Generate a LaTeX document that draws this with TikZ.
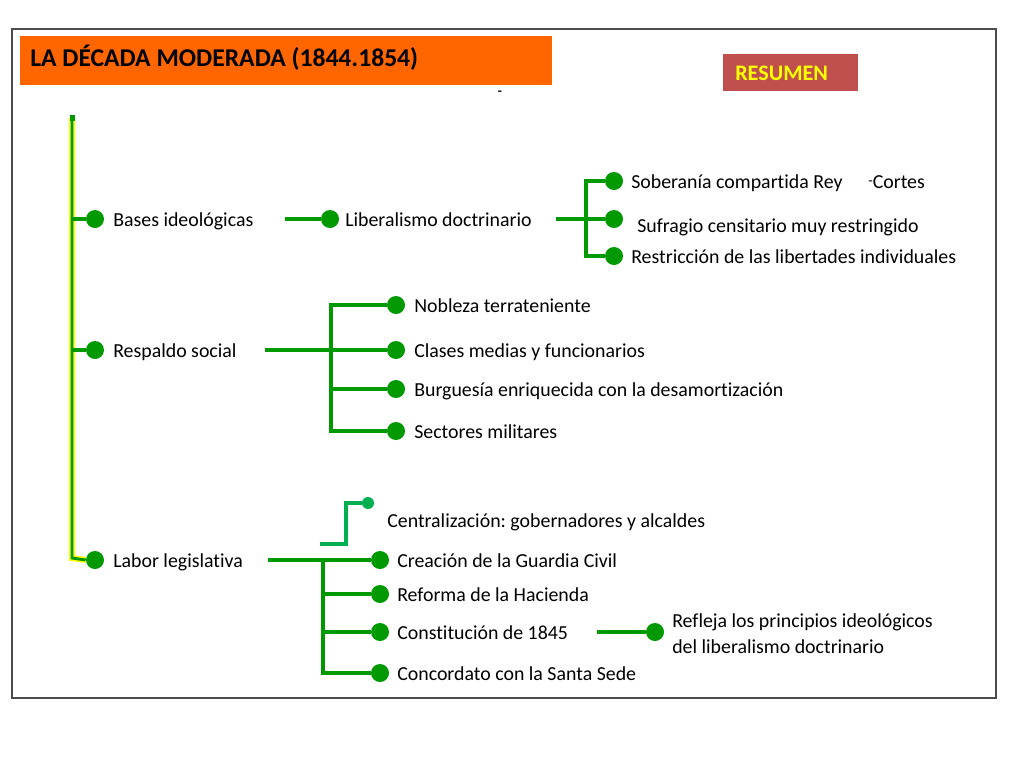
\documentclass[tikz,border=0pt]{standalone}
\usepackage{fontspec}
\setmainfont[Ligatures={NoCommon}]{Carlito}
\definecolor{gr}{RGB}{0,153,0}
\definecolor{lgr}{RGB}{0,176,80}
\definecolor{org}{RGB}{255,102,0}
\definecolor{res}{RGB}{192,80,77}
\definecolor{yel}{RGB}{255,255,0}
\frenchspacing
\begin{document}
\begin{tikzpicture}[x=0.75pt,y=-0.75pt,
  dot/.style={circle,fill=gr,inner sep=0pt,minimum size=13.5pt},
  sdot/.style={circle,fill=lgr,inner sep=0pt,minimum size=9pt},
  lbl/.style={anchor=base west,inner sep=0pt,font=\fontsize{14.9}{17}\selectfont},
  conn/.style={gr,line width=3pt},
  trunk/.style={line width=4.5pt,yel},
  trunkin/.style={line width=2.2pt,gr}]
\useasboundingbox (0,0) rectangle (1024,768);
\draw[gray!60!black,line width=0.8pt] (12,29) rectangle (996,698);
% title
\fill[org] (20,36) rectangle (552,85);
\node[anchor=base west,inner sep=0pt,font=\fontsize{19.2}{22}\selectfont\bfseries] (title) at (30,66) {LA DÉCADA MODERADA (1844.1854)};
\fill[res] (723,54) rectangle (858,91);
\node[anchor=base west,inner sep=0pt,text=yel,font=\fontsize{16.6}{19}\selectfont\bfseries] (resumen) at (735,80) {RESUMEN};
\node[inner sep=0pt,font=\bfseries] (dash) at (500,93) {-};
% trunk
\coordinate (ttop) at (72,118);
\coordinate (tbot) at (72,558);
\coordinate (tb) at (72,219);
\coordinate (tr) at (72,350);
% level 1 dots
\node[dot] (d1) at (95,219) {};
\node[dot] (d2) at (95,350) {};
\node[dot] (d3) at (95,560) {};
\draw[trunk] (ttop) -- (tbot) -- (d3.west);
\draw[trunkin] (ttop) -- (tbot) -- (d3.west);
\fill[gr] (69.5,115) rectangle (74.5,121);
\draw[conn] (tb) -- (d1);
\draw[conn] (tr) -- (d2);
\node[lbl] (t1) at (113,226) {Bases ideológicas};
\node[lbl] (t2) at (113,357) {Respaldo social};
\node[lbl] (t3) at (113,567) {Labor legislativa};
% Bases
\coordinate (b0) at (285,219);
\node[dot] (lib) at (330,219) {};
\draw[conn] (b0) -- (lib);
\node[lbl] (tlib) at (345,226) {Liberalismo doctrinario};
\coordinate (l0) at (556,219);
\coordinate (lvt) at (586,181);
\coordinate (lvb) at (586,256);
\node[dot] (s1) at (614,181) {};
\node[dot] (s2) at (614,219) {};
\node[dot] (s3) at (614,256) {};
\draw[conn] (l0) -- (s2);
\draw[conn] (s1) -- (lvt) -- (lvb) -- (s3);
\node[lbl] (ts1) at (631,188) {Soberanía compartida Rey};
\node[lbl] (ts1b) at (868,188) {\raisebox{2pt}{\fontsize{11}{11}\selectfont -}Cortes};
\node[lbl] (ts2) at (637,232) {Sufragio censitario muy restringido};
\node[lbl] (ts3) at (631,263) {Restricción de las libertades individuales};
% Respaldo
\coordinate (r0) at (265,350);
\coordinate (rvt) at (331,305);
\coordinate (rvb) at (331,431);
\coordinate (rv3) at (331,389);
\node[dot] (r1) at (396,305) {};
\node[dot] (r2) at (396,350) {};
\node[dot] (r3) at (396,389) {};
\node[dot] (r4) at (396,431) {};
\draw[conn] (r0) -- (r2);
\draw[conn] (r1) -- (rvt) -- (rvb) -- (r4);
\draw[conn] (rv3) -- (r3);
\node[lbl] (tr1) at (414,312) {Nobleza terrateniente};
\node[lbl] (tr2) at (414,357) {Clases medias y funcionarios};
\node[lbl] (tr3) at (414,396) {Burguesía enriquecida con la desamortización};
\node[lbl] (tr4) at (414,438) {Sectores militares};
% Labor
\coordinate (g0) at (268,560);
\coordinate (gv) at (323,560);
\coordinate (gvb) at (323,673);
\coordinate (gv2) at (323,594);
\coordinate (gv3) at (323,632);
\node[dot] (g1) at (380,560) {};
\node[dot] (g2) at (380,594) {};
\node[dot] (g3) at (380,632) {};
\node[dot] (g4) at (380,673) {};
\draw[conn] (g0) -- (g1);
\draw[conn] (gv) -- (gvb) -- (g4);
\draw[conn] (gv2) -- (g2);
\draw[conn] (gv3) -- (g3);
\node[lbl] (tg1) at (397,567) {Creación de la Guardia Civil};
\node[lbl] (tg2) at (397,601) {Reforma de la Hacienda};
\node[lbl] (tg3) at (397,639) {Constitución de 1845};
\node[lbl] (tg4) at (397,680) {Concordato con la Santa Sede};
% Centralizacion
\coordinate (c0) at (320,544);
\node[sdot] (c1) at (368,503) {};
\draw[lgr,line width=3pt] (c0) -- (346,544) -- (346,503) -- (c1);
\node[lbl] (tc) at (387,527) {Centralización: gobernadores y alcaldes};
% Constitucion
\coordinate (k0) at (597,632);
\node[dot] (k1) at (655,632) {};
\draw[conn] (k0) -- (k1);
\node[lbl] (tk1) at (672,627) {Refleja los principios ideológicos};
\node[lbl] (tk2) at (672,653) {del liberalismo doctrinario};
\end{tikzpicture}
\end{document}
